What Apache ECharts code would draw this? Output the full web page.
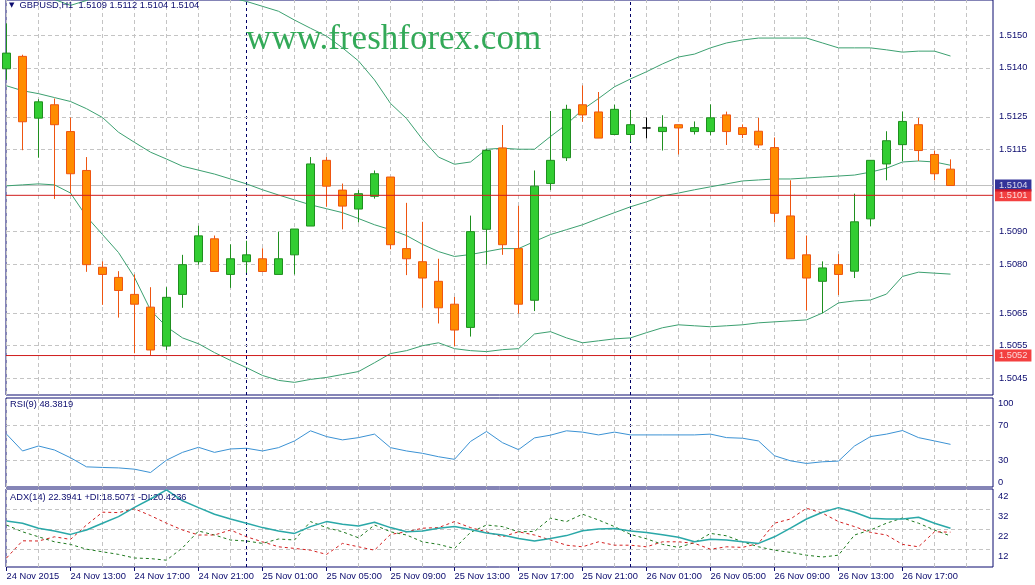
<!DOCTYPE html>
<html><head><meta charset="utf-8">
<script src="https://cdn.jsdelivr.net/npm/echarts@6/dist/echarts.min.js"></script>
<style>html,body{margin:0;padding:0;background:#fff;}#c{width:1035px;height:585px;}</style>
</head><body><div id="c"></div>
<script>
// ---------------- DATA ----------------
const symbol = 'GBPUSD,H1';
const timeLabels = ['24 Nov 2015','24 Nov 13:00','24 Nov 17:00','24 Nov 21:00','25 Nov 01:00','25 Nov 05:00','25 Nov 09:00','25 Nov 13:00','25 Nov 17:00','25 Nov 21:00','26 Nov 01:00','26 Nov 05:00','26 Nov 09:00','26 Nov 13:00','26 Nov 17:00'];
const labelBars = [0,4,8,12,16,20,24,28,32,36,40,44,48,52,56];
const gridBars = [0,2,4,6,8,10,12,14,16,18,20,22,24,26,28,30,32,34,36,38,40,42,44,46,48,50,52,54,56,58,60];
const separatorBars = [15,39];

const open = [1.51397,1.51435,1.51246,1.51287,1.51205,1.51086,1.50790,1.50759,1.50707,1.50668,
 1.50549,1.50707,1.50807,1.50877,1.50768,1.50807,1.50816,1.50768,1.50828,1.50916,
 1.51117,1.51026,1.50968,1.51007,1.51066,1.50847,1.50807,1.50747,1.50677,1.50606,
 1.50906,1.51155,1.50847,1.50689,1.51046,1.51125,1.51287,1.51265,1.51196,1.51196,
 1.51216,1.51205,1.51226,1.51205,1.51205,1.51256,1.51217,1.51206,1.51156,1.50947,
 1.50828,1.50747,1.50798,1.50778,1.50938,1.51106,1.51165,1.51226,1.51135,1.5109];
const close = [1.51445,1.51235,1.51296,1.51226,1.51076,1.50798,1.50768,1.50719,1.50677,1.50537,
 1.50698,1.50798,1.50886,1.50777,1.50816,1.50828,1.50777,1.50816,1.50907,1.51106,
 1.51038,1.50977,1.51015,1.51076,1.50859,1.50816,1.50757,1.50666,1.50598,1.50899,
 1.51147,1.50859,1.50677,1.51038,1.51117,1.51273,1.51256,1.51185,1.51273,1.51226,
 1.51216,1.51218,1.51216,1.51217,1.51247,1.51205,1.51196,1.51164,1.50955,1.50816,
 1.50757,1.50788,1.50768,1.50929,1.51117,1.51177,1.51236,1.51147,1.51076,1.5104];
const low = [1.51363,1.51148,1.51125,1.50999,1.51017,1.50776,1.50675,1.50636,1.50527,1.50520,
 1.50537,1.50666,1.50798,1.50777,1.50727,1.50773,1.50777,1.50768,1.50768,1.50916,
 1.50975,1.50906,1.50927,1.51000,1.50845,1.50766,1.50666,1.50618,1.50548,1.50578,
 1.50798,1.50828,1.50648,1.50656,1.51026,1.51115,1.51235,1.51185,1.51196,1.51174,
 1.51184,1.51147,1.51135,1.51196,1.51194,1.51164,1.51185,1.51155,1.50927,1.50816,
 1.50658,1.50649,1.50705,1.50757,1.50916,1.51056,1.51115,1.51115,1.51056,1.5104];
const high = [1.51536,1.51440,1.51304,1.51306,1.51248,1.51127,1.50808,1.50778,1.50768,1.50729,
 1.50729,1.50828,1.50917,1.50887,1.50860,1.50871,1.50848,1.50899,1.50907,1.51127,
 1.51127,1.51046,1.51026,1.51086,1.51066,1.50987,1.50929,1.50816,1.50699,1.50948,
 1.51152,1.51225,1.50978,1.51086,1.51268,1.51287,1.51346,1.51326,1.51287,1.51270,
 1.51248,1.51255,1.51226,1.51236,1.51288,1.51266,1.51227,1.51247,1.51187,1.51056,
 1.50887,1.50808,1.50830,1.51015,1.51117,1.51206,1.51266,1.51247,1.51147,1.5112];

const bbUpper = [1.51673,1.51652,1.51627,1.51609,1.51591,1.51606,1.51627,1.51643,1.51652,1.51658,
 1.51658,1.51658,1.51652,1.51634,1.51615,1.51603,1.51588,1.51573,1.51546,1.51521,
 1.51497,1.51461,1.51421,1.51363,1.51291,1.51245,1.51181,1.51127,1.51105,1.51112,
 1.51151,1.51154,1.51151,1.51151,1.51190,1.51227,1.51272,1.51306,1.51342,1.51366,
 1.51388,1.51412,1.51433,1.51442,1.51461,1.51476,1.51485,1.51491,1.51491,1.51491,
 1.51491,1.51476,1.51461,1.51461,1.51461,1.51455,1.51448,1.51451,1.51451,1.51436];
const bbMiddle = [1.51345,1.51330,1.51321,1.51309,1.51297,1.51275,1.51248,1.51203,1.51172,1.51142,
 1.51121,1.51099,1.51087,1.51075,1.51060,1.51045,1.51027,1.51011,1.50996,1.50981,
 1.50969,1.50957,1.50939,1.50920,1.50905,1.50887,1.50860,1.50838,1.50823,1.50829,
 1.50838,1.50847,1.50847,1.50869,1.50890,1.50905,1.50920,1.50939,1.50957,1.50975,
 1.50990,1.51008,1.51017,1.51027,1.51036,1.51045,1.51054,1.51057,1.51060,1.51060,
 1.51063,1.51066,1.51069,1.51072,1.51081,1.51093,1.51112,1.51115,1.51112,1.51102];
const bbLower = [1.51039,1.51042,1.51045,1.51042,1.51017,1.50945,1.50890,1.50835,1.50759,1.50659,
 1.50608,1.50574,1.50556,1.50529,1.50505,1.50483,1.50459,1.50444,1.50438,1.50447,
 1.50453,1.50462,1.50471,1.50498,1.50526,1.50535,1.50550,1.50559,1.50541,1.50535,
 1.50532,1.50538,1.50541,1.50586,1.50593,1.50574,1.50559,1.50565,1.50571,1.50574,
 1.50590,1.50605,1.50614,1.50611,1.50608,1.50611,1.50614,1.50620,1.50623,1.50626,
 1.50629,1.50650,1.50681,1.50687,1.50690,1.50708,1.50762,1.50775,1.50772,1.50769];

const rsi = [60.1,40.8,46.5,41.9,33.0,22.6,21.9,21.4,19.9,16.1,
 30.3,39.2,45.0,39.2,43.1,43.9,40.8,44.6,52.3,63.9,
 57.3,53.5,56.1,60.1,44.6,40.8,38.1,34.2,31.2,51.7,
 63.1,50.3,42.3,55.8,58.9,63.9,62.4,59.2,62.4,59.2,
 59.2,59.2,59.2,59.2,60.1,56.1,55.4,52.3,35.3,29.5,
 26.5,28.4,29.2,46.5,57.3,60.1,64.2,56.1,52.3,48.3819];
const adx = [26.0,24.9,22.4,21.0,19.3,21.5,24.9,28.2,32.8,37.0,
 41.6,36.1,32.7,29.4,27.0,24.9,22.7,21.0,19.8,23.2,
 25.7,24.4,23.5,25.4,22.7,20.6,21.0,22.4,23.2,21.8,
 20.0,19.0,17.3,16.0,17.3,18.7,21.1,22.0,22.2,21.0,
 20.3,19.1,17.9,15.6,16.9,16.5,15.6,14.8,18.1,22.4,
 27.0,30.4,32.7,30.4,27.4,27.0,27.0,27.9,24.9,22.3941];
const plusDI = [24.0,20.6,18.1,15.6,14.3,11.9,10.6,9.3,7.5,7.2,
 6.4,12.6,21.0,19.0,16.5,16.0,14.8,17.0,16.5,25.7,
 22.7,20.6,17.6,24.0,20.6,19.0,15.6,14.3,12.3,20.3,
 24.0,23.2,20.6,20.8,27.4,25.7,29.4,26.5,23.2,19.3,
 17.1,14.3,12.8,15.2,19.8,18.6,15.6,13.1,11.4,10.3,
 8.9,8.0,8.9,19.0,21.5,24.9,27.5,24.9,21.5,18.5071];
const minusDI = [7.5,16.1,16.0,18.1,16.8,24.0,30.4,30.2,32.1,28.7,
 24.9,21.5,19.0,19.0,21.5,18.1,15.6,13.1,12.3,11.4,
 9.3,14.8,13.1,11.4,19.3,20.6,22.4,22.7,25.7,22.7,
 20.6,18.1,20.6,19.0,16.5,13.9,13.1,15.6,13.9,13.9,
 13.1,15.6,15.6,14.8,11.9,13.1,12.8,14.8,24.9,27.0,
 32.4,29.9,25.7,23.2,20.3,19.0,14.3,13.1,20.6,20.4236];

const priceTicks = [1.5045,1.5055,1.5065,1.5080,1.5090,1.5115,1.5125,1.5140,1.5150];
const rsiTicks = [0,30,70,100];
const rsiGridLevels = [30,70];
const adxTicks = [3,12,22,32,42];
const adxGridLevels = [12,22,32];
const redLevels = [1.5101,1.5052];

// ---------------- STYLE ----------------
const NAVY = '#0b0b6e', GRIDC = '#c4c4c4', SEP = '#000066', RED = '#d01c1c';
const FONT = 'Liberation Sans', FS = 9.3;
const X_MIN = -0.03125, X_MAX = 61.65625;
const last = close.length - 1;
const f4 = v => v.toFixed(4);
const pairs = arr => arr.map((v, i) => [i, v]);
const candleData = open.map((o, i) => [i, o, close[i], low[i], high[i]]);

function gridStyle() { return {color: GRIDC, type: [4, 3], width: 1}; }
function sepStyle() { return {color: SEP, type: [3, 3], width: 1}; }
function vLines() {
  return gridBars.map(b => ({xAxis: b, lineStyle: gridStyle()}))
    .concat(separatorBars.map(b => ({xAxis: b, lineStyle: sepStyle()})));
}
function hLines(levels) { return levels.map(v => ({yAxis: v, lineStyle: gridStyle()})); }
function mlBase(data) {
  return {silent: true, symbol: ['none', 'none'], label: {show: false}, animation: false, z: 1, precision: 8, data: data};
}
// horizontal level line (bid / user lines): flat line series spanning the time axis
function levelLine(name, v, color, z) {
  return {name: name, type: 'line', xAxisIndex: 0, yAxisIndex: 0, symbol: 'none', silent: true, z: z,
    data: [[X_MIN, v], [X_MAX, v]], lineStyle: {color: color, width: 1, type: 'solid'}};
}
// boxed price tag on the right of the price scale
function levelTag(name, v, bg, z) {
  return {name: name, type: 'scatter', xAxisIndex: 0, yAxisIndex: 0, silent: true, z: z, clip: false,
    symbolSize: 0, data: [[X_MAX, v]],
    label: {show: true, position: 'right', distance: 2, formatter: f4(v), color: '#fff', backgroundColor: bg,
            padding: [2, 4, 1, 4], fontSize: FS, fontFamily: FONT}};
}

function xAxis(gi, withLabels) {
  return {
    type: 'value', gridIndex: gi, min: X_MIN, max: X_MAX,
    axisLine: {show: false}, splitLine: {show: false},
    axisTick: withLabels ? {show: true, customValues: labelBars, length: 4, lineStyle: {color: NAVY}} : {show: false},
    axisLabel: withLabels ? {
      show: true, customValues: labelBars, align: 'left', margin: 5,
      formatter: v => timeLabels[labelBars.indexOf(Math.round(v))] || '',
      color: NAVY, fontSize: FS, fontFamily: FONT
    } : {show: false}
  };
}

const gridCommon = {left: 6, right: 42, show: true, borderColor: NAVY, borderWidth: 1, backgroundColor: 'transparent'};

const option = {
  animation: false,
  backgroundColor: '#ffffff',
  textStyle: {fontFamily: FONT},
  title: [
    {text: '{t|▼}  ' + symbol + '  ' + [open[last], high[last], low[last], close[last]].map(f4).join(' '),
     left: 9, top: 1, padding: 0,
     textStyle: {fontSize: FS, color: NAVY, fontWeight: 'normal', fontFamily: FONT,
       rich: {t: {fontSize: 7, color: NAVY, fontFamily: 'DejaVu Sans'}}}},
    {text: 'www.freshforex.com', left: 246, top: 22, padding: 0,
     textStyle: {fontFamily: 'Liberation Serif', fontSize: 35, color: '#33a958', fontWeight: 'normal'}},
    {text: 'RSI(9) ' + f4(rsi[last]), left: 10, top: 400, padding: 0,
     textStyle: {fontSize: FS, color: NAVY, fontWeight: 'normal', fontFamily: FONT}},
    {text: 'ADX(14) ' + f4(adx[last]) + ' +DI:' + f4(plusDI[last]) + ' -DI:' + f4(minusDI[last]),
     left: 10, top: 493, padding: 0,
     textStyle: {fontSize: FS, color: NAVY, fontWeight: 'normal', fontFamily: FONT}}
  ],
  grid: [
    Object.assign({top: -2, height: 397}, gridCommon),
    Object.assign({top: 398, height: 89}, gridCommon),
    Object.assign({top: 489, height: 78}, gridCommon)
  ],
  xAxis: [xAxis(0, false), xAxis(1, false), xAxis(2, true)],
  yAxis: [
    {type: 'value', gridIndex: 0, position: 'right', min: 1.503993, max: 1.516074,
     axisLine: {show: false}, splitLine: {show: false},
     axisTick: {show: true, customValues: priceTicks, length: 3, lineStyle: {color: NAVY}},
     axisLabel: {customValues: priceTicks, formatter: v => f4(v), margin: 6, color: NAVY, fontSize: FS, fontFamily: FONT}},
    {type: 'value', gridIndex: 1, position: 'right', min: -0.5, max: 101.5,
     axisLine: {show: false}, splitLine: {show: false},
     axisTick: {show: true, customValues: rsiGridLevels, length: 3, lineStyle: {color: NAVY}},
     axisLabel: {customValues: rsiTicks, margin: 5, color: NAVY, fontSize: FS, fontFamily: FONT,
       verticalAlignMinLabel: 'bottom', verticalAlignMaxLabel: 'top'}},
    {type: 'value', gridIndex: 2, position: 'right', min: 3, max: 42,
     axisLine: {show: false}, splitLine: {show: false},
     axisTick: {show: true, customValues: adxGridLevels, length: 3, lineStyle: {color: NAVY}},
     axisLabel: {customValues: adxTicks, margin: 5, color: NAVY, fontSize: FS, fontFamily: FONT,
       verticalAlign: 'top', verticalAlignMinLabel: 'bottom', verticalAlignMaxLabel: 'top', padding: [3, 0, 0, 0]}}
  ],
  series: [
    {name: 'BB upper', type: 'line', xAxisIndex: 0, yAxisIndex: 0, data: pairs(bbUpper), symbol: 'none', silent: true,
     lineStyle: {color: '#3ca070', width: 1}, z: 2},
    {name: 'BB middle', type: 'line', xAxisIndex: 0, yAxisIndex: 0, data: pairs(bbMiddle), symbol: 'none', silent: true,
     lineStyle: {color: '#3ca070', width: 1}, z: 2,
     markLine: mlBase(vLines().concat(hLines(priceTicks)))},
    {name: 'BB lower', type: 'line', xAxisIndex: 0, yAxisIndex: 0, data: pairs(bbLower), symbol: 'none', silent: true,
     lineStyle: {color: '#3ca070', width: 1}, z: 2},
    levelLine('Bid', close[last], '#c0c0c0', 1),
    {name: symbol, type: 'candlestick', xAxisIndex: 0, yAxisIndex: 0, data: candleData,
     encode: {x: 0, y: [1, 2, 3, 4]}, barWidth: 9, silent: true, z: 3,
     itemStyle: {color: '#32cd32', color0: '#ff8c00', borderColor: '#1f8f1f', borderColor0: '#ee5511',
                 borderColorDoji: '#000000', borderWidth: 1}},
    levelLine('Line 1', redLevels[0], RED, 10),
    levelLine('Line 2', redLevels[1], RED, 10),
    levelTag('Bid tag', close[last], '#000080', 11),
    levelTag('Line 1 tag', redLevels[0], '#f01010', 12),
    levelTag('Line 2 tag', redLevels[1], '#f01010', 12),
    {name: 'RSI', type: 'line', xAxisIndex: 1, yAxisIndex: 1, data: pairs(rsi), symbol: 'none', silent: true,
     lineStyle: {color: '#3b92d4', width: 1}, z: 2,
     markLine: mlBase(vLines().concat(hLines(rsiGridLevels)))},
    {name: 'ADX', type: 'line', xAxisIndex: 2, yAxisIndex: 2, data: pairs(adx), symbol: 'none', silent: true,
     lineStyle: {color: '#2aa8a8', width: 1.5}, z: 3,
     markLine: mlBase(vLines().concat(hLines(adxGridLevels)))},
    {name: '+DI', type: 'line', xAxisIndex: 2, yAxisIndex: 2, data: pairs(plusDI), symbol: 'none', silent: true,
     lineStyle: {color: '#1f7a1f', width: 1, type: [3, 3]}, z: 2},
    {name: '-DI', type: 'line', xAxisIndex: 2, yAxisIndex: 2, data: pairs(minusDI), symbol: 'none', silent: true,
     lineStyle: {color: '#d42020', width: 1, type: [3, 3]}, z: 2}
  ]
};
const chart = echarts.init(document.getElementById('c'), null, {renderer: 'canvas'});
chart.setOption(option);
</script>
</body></html>
